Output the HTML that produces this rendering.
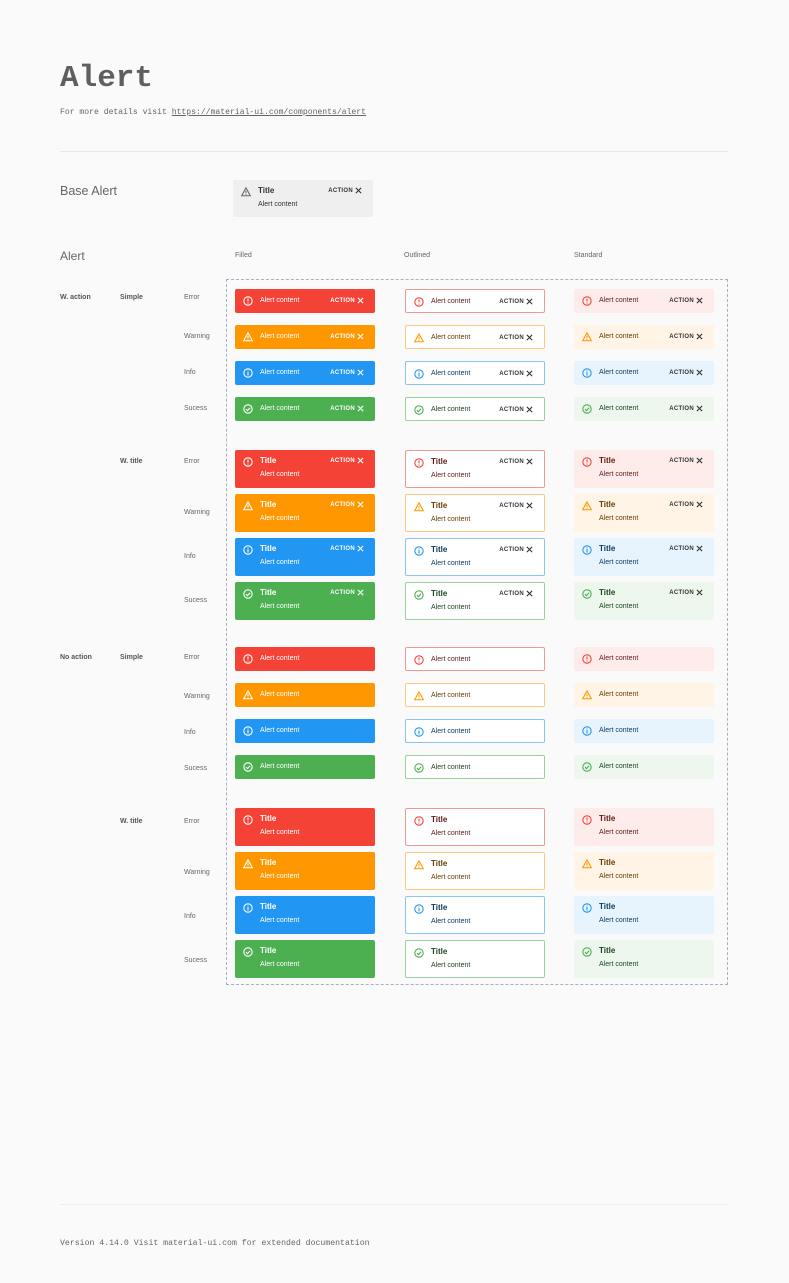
<!DOCTYPE html>
<html><head><meta charset="utf-8"><style>
body{margin:0;width:789px;height:1283px;background:#fafafa;position:relative;overflow:hidden;font-family:"Liberation Sans",sans-serif;color:#616161}
.p{position:absolute;white-space:nowrap}
.m{font-family:"Liberation Mono",monospace}
.l{font-size:7px;color:#666}
.a{position:absolute;width:140px;border-radius:2px;box-sizing:border-box;font-size:7px}
.s{height:24px}.t{height:38px}
.a svg.i{position:absolute;left:8px;top:7px;width:10px;height:10px}
.a .c{position:absolute;left:25px;top:8px;line-height:8px}
.t .c{top:21px}
.t .h{position:absolute;left:25px;top:6px;font-size:8px;font-weight:bold;line-height:10px}
.a .b{position:absolute;right:20px;top:8px;font-size:6px;font-weight:bold;letter-spacing:.3px;line-height:8px}
.a svg.x{position:absolute;right:11px;top:8px;width:7px;height:7px}
.t .b{top:7px}.t svg.x{top:7px}
.F{color:#fff}.F.e{background:#f44336}.F.w{background:#ff9800}.F.n{background:#2196f3}.F.k{background:#4caf50}
.O{background:#fff;border:1px solid}
.O.e{border-color:#ec9a95;color:#611a15}.O.w{border-color:#ffc880;color:#663c00}.O.n{border-color:#8cc4f0;color:#0d3c61}.O.k{border-color:#9ccf9e;color:#1e4620}
.S.e{background:#fdecea;color:#611a15}.S.w{background:#fff4e5;color:#663c00}.S.n{background:#e8f4fd;color:#0d3c61}.S.k{background:#edf7ed;color:#1e4620}
.O .b,.S .b,.O .x,.S .x{color:#333}
.O.e .i,.S.e .i{color:#f44336}.O.w .i,.S.w .i{color:#ff9800}.O.n .i,.S.n .i{color:#2196f3}.O.k .i,.S.k .i{color:#4caf50}
svg{fill:none;stroke:currentColor;stroke-width:1.3}
</style></head><body>
<svg width="0" height="0" style="position:absolute">
<symbol id="e" viewBox="0 0 12 12"><circle cx="6" cy="6" r="5"/><path d="M6 3v3.5M6 8v1"/></symbol>
<symbol id="w" viewBox="0 0 12 12"><path d="M6 1L11.2 10.5H0.8Z M6 4.5v3M6 8.5v1"/></symbol>
<symbol id="n" viewBox="0 0 12 12"><circle cx="6" cy="6" r="5"/><path d="M6 5v4M6 3v1"/></symbol>
<symbol id="k" viewBox="0 0 12 12"><circle cx="6" cy="6" r="5"/><path d="M3.5 6.2l1.8 1.8 3.3-3.5"/></symbol>
<symbol id="x" viewBox="0 0 8 8"><path d="M1 1l6 6M7 1L1 7"/></symbol>
</svg>

<div class="p m" style="left:60px;top:61px;font-size:31px;font-weight:bold;color:#5f5f5f">Alert</div>
<div class="p m" style="left:60px;top:108px;font-size:8.1px;color:#666">For more details visit <span style="text-decoration:underline">https://material-ui.com/components/alert</span></div>
<div class="p" style="left:60px;top:151px;width:668px;height:1px;background:#e8e8e8"></div>

<div class="p" style="left:60px;top:184px;font-size:12.5px;color:#666">Base Alert</div>
<div class="a t" style="left:233px;top:180px;background:#efefef;color:#333;height:37px"><svg class="i" style="color:#666"><use href="#w"/></svg><div class="h">Title</div><div class="c">Alert content</div><div class="b">ACTION</div><svg class="x"><use href="#x"/></svg></div>

<div class="p" style="left:60px;top:249px;font-size:12px;color:#666">Alert</div>
<div class="p l" style="left:235px;top:252px">Filled</div>
<div class="p l" style="left:404px;top:252px">Outlined</div>
<div class="p l" style="left:574px;top:252px">Standard</div>
<div class="p" style="left:226px;top:279px;width:500px;height:704px;border:1px dashed #a9aec4"></div>

<div class="p l" style="left:60px;top:294px;font-weight:bold;color:#555">W. action</div>
<div class="p l" style="left:120px;top:294px;font-weight:bold;color:#555">Simple</div>
<div class="p l" style="left:184px;top:294px">Error</div>
<div class="p l" style="left:184px;top:333px">Warning</div>
<div class="p l" style="left:184px;top:369px">Info</div>
<div class="p l" style="left:184px;top:405px">Sucess</div>
<div class="p l" style="left:120px;top:458px;font-weight:bold;color:#555">W. title</div>
<div class="p l" style="left:184px;top:458px">Error</div>
<div class="p l" style="left:184px;top:509px">Warning</div>
<div class="p l" style="left:184px;top:553px">Info</div>
<div class="p l" style="left:184px;top:597px">Sucess</div>
<div class="p l" style="left:60px;top:654px;font-weight:bold;color:#555">No action</div>
<div class="p l" style="left:120px;top:654px;font-weight:bold;color:#555">Simple</div>
<div class="p l" style="left:184px;top:654px">Error</div>
<div class="p l" style="left:184px;top:693px">Warning</div>
<div class="p l" style="left:184px;top:729px">Info</div>
<div class="p l" style="left:184px;top:765px">Sucess</div>
<div class="p l" style="left:120px;top:818px;font-weight:bold;color:#555">W. title</div>
<div class="p l" style="left:184px;top:818px">Error</div>
<div class="p l" style="left:184px;top:869px">Warning</div>
<div class="p l" style="left:184px;top:913px">Info</div>
<div class="p l" style="left:184px;top:957px">Sucess</div>

<div class="a s F e" style="left:235px;top:289px"><svg class="i"><use href="#e"/></svg><div class="c">Alert content</div><div class="b">ACTION</div><svg class="x"><use href="#x"/></svg></div>
<div class="a s O e" style="left:405px;top:289px"><svg class="i"><use href="#e"/></svg><div class="c">Alert content</div><div class="b">ACTION</div><svg class="x"><use href="#x"/></svg></div>
<div class="a s S e" style="left:574px;top:289px"><svg class="i"><use href="#e"/></svg><div class="c">Alert content</div><div class="b">ACTION</div><svg class="x"><use href="#x"/></svg></div>
<div class="a s F w" style="left:235px;top:325px"><svg class="i"><use href="#w"/></svg><div class="c">Alert content</div><div class="b">ACTION</div><svg class="x"><use href="#x"/></svg></div>
<div class="a s O w" style="left:405px;top:325px"><svg class="i"><use href="#w"/></svg><div class="c">Alert content</div><div class="b">ACTION</div><svg class="x"><use href="#x"/></svg></div>
<div class="a s S w" style="left:574px;top:325px"><svg class="i"><use href="#w"/></svg><div class="c">Alert content</div><div class="b">ACTION</div><svg class="x"><use href="#x"/></svg></div>
<div class="a s F n" style="left:235px;top:361px"><svg class="i"><use href="#n"/></svg><div class="c">Alert content</div><div class="b">ACTION</div><svg class="x"><use href="#x"/></svg></div>
<div class="a s O n" style="left:405px;top:361px"><svg class="i"><use href="#n"/></svg><div class="c">Alert content</div><div class="b">ACTION</div><svg class="x"><use href="#x"/></svg></div>
<div class="a s S n" style="left:574px;top:361px"><svg class="i"><use href="#n"/></svg><div class="c">Alert content</div><div class="b">ACTION</div><svg class="x"><use href="#x"/></svg></div>
<div class="a s F k" style="left:235px;top:397px"><svg class="i"><use href="#k"/></svg><div class="c">Alert content</div><div class="b">ACTION</div><svg class="x"><use href="#x"/></svg></div>
<div class="a s O k" style="left:405px;top:397px"><svg class="i"><use href="#k"/></svg><div class="c">Alert content</div><div class="b">ACTION</div><svg class="x"><use href="#x"/></svg></div>
<div class="a s S k" style="left:574px;top:397px"><svg class="i"><use href="#k"/></svg><div class="c">Alert content</div><div class="b">ACTION</div><svg class="x"><use href="#x"/></svg></div>

<div class="a t F e" style="left:235px;top:450px"><svg class="i"><use href="#e"/></svg><div class="h">Title</div><div class="c">Alert content</div><div class="b">ACTION</div><svg class="x"><use href="#x"/></svg></div>
<div class="a t O e" style="left:405px;top:450px"><svg class="i"><use href="#e"/></svg><div class="h">Title</div><div class="c">Alert content</div><div class="b">ACTION</div><svg class="x"><use href="#x"/></svg></div>
<div class="a t S e" style="left:574px;top:450px"><svg class="i"><use href="#e"/></svg><div class="h">Title</div><div class="c">Alert content</div><div class="b">ACTION</div><svg class="x"><use href="#x"/></svg></div>
<div class="a t F w" style="left:235px;top:494px"><svg class="i"><use href="#w"/></svg><div class="h">Title</div><div class="c">Alert content</div><div class="b">ACTION</div><svg class="x"><use href="#x"/></svg></div>
<div class="a t O w" style="left:405px;top:494px"><svg class="i"><use href="#w"/></svg><div class="h">Title</div><div class="c">Alert content</div><div class="b">ACTION</div><svg class="x"><use href="#x"/></svg></div>
<div class="a t S w" style="left:574px;top:494px"><svg class="i"><use href="#w"/></svg><div class="h">Title</div><div class="c">Alert content</div><div class="b">ACTION</div><svg class="x"><use href="#x"/></svg></div>
<div class="a t F n" style="left:235px;top:538px"><svg class="i"><use href="#n"/></svg><div class="h">Title</div><div class="c">Alert content</div><div class="b">ACTION</div><svg class="x"><use href="#x"/></svg></div>
<div class="a t O n" style="left:405px;top:538px"><svg class="i"><use href="#n"/></svg><div class="h">Title</div><div class="c">Alert content</div><div class="b">ACTION</div><svg class="x"><use href="#x"/></svg></div>
<div class="a t S n" style="left:574px;top:538px"><svg class="i"><use href="#n"/></svg><div class="h">Title</div><div class="c">Alert content</div><div class="b">ACTION</div><svg class="x"><use href="#x"/></svg></div>
<div class="a t F k" style="left:235px;top:582px"><svg class="i"><use href="#k"/></svg><div class="h">Title</div><div class="c">Alert content</div><div class="b">ACTION</div><svg class="x"><use href="#x"/></svg></div>
<div class="a t O k" style="left:405px;top:582px"><svg class="i"><use href="#k"/></svg><div class="h">Title</div><div class="c">Alert content</div><div class="b">ACTION</div><svg class="x"><use href="#x"/></svg></div>
<div class="a t S k" style="left:574px;top:582px"><svg class="i"><use href="#k"/></svg><div class="h">Title</div><div class="c">Alert content</div><div class="b">ACTION</div><svg class="x"><use href="#x"/></svg></div>

<div class="a s F e" style="left:235px;top:647px"><svg class="i"><use href="#e"/></svg><div class="c">Alert content</div></div>
<div class="a s O e" style="left:405px;top:647px"><svg class="i"><use href="#e"/></svg><div class="c">Alert content</div></div>
<div class="a s S e" style="left:574px;top:647px"><svg class="i"><use href="#e"/></svg><div class="c">Alert content</div></div>
<div class="a s F w" style="left:235px;top:683px"><svg class="i"><use href="#w"/></svg><div class="c">Alert content</div></div>
<div class="a s O w" style="left:405px;top:683px"><svg class="i"><use href="#w"/></svg><div class="c">Alert content</div></div>
<div class="a s S w" style="left:574px;top:683px"><svg class="i"><use href="#w"/></svg><div class="c">Alert content</div></div>
<div class="a s F n" style="left:235px;top:719px"><svg class="i"><use href="#n"/></svg><div class="c">Alert content</div></div>
<div class="a s O n" style="left:405px;top:719px"><svg class="i"><use href="#n"/></svg><div class="c">Alert content</div></div>
<div class="a s S n" style="left:574px;top:719px"><svg class="i"><use href="#n"/></svg><div class="c">Alert content</div></div>
<div class="a s F k" style="left:235px;top:755px"><svg class="i"><use href="#k"/></svg><div class="c">Alert content</div></div>
<div class="a s O k" style="left:405px;top:755px"><svg class="i"><use href="#k"/></svg><div class="c">Alert content</div></div>
<div class="a s S k" style="left:574px;top:755px"><svg class="i"><use href="#k"/></svg><div class="c">Alert content</div></div>

<div class="a t F e" style="left:235px;top:808px"><svg class="i"><use href="#e"/></svg><div class="h">Title</div><div class="c">Alert content</div></div>
<div class="a t O e" style="left:405px;top:808px"><svg class="i"><use href="#e"/></svg><div class="h">Title</div><div class="c">Alert content</div></div>
<div class="a t S e" style="left:574px;top:808px"><svg class="i"><use href="#e"/></svg><div class="h">Title</div><div class="c">Alert content</div></div>
<div class="a t F w" style="left:235px;top:852px"><svg class="i"><use href="#w"/></svg><div class="h">Title</div><div class="c">Alert content</div></div>
<div class="a t O w" style="left:405px;top:852px"><svg class="i"><use href="#w"/></svg><div class="h">Title</div><div class="c">Alert content</div></div>
<div class="a t S w" style="left:574px;top:852px"><svg class="i"><use href="#w"/></svg><div class="h">Title</div><div class="c">Alert content</div></div>
<div class="a t F n" style="left:235px;top:896px"><svg class="i"><use href="#n"/></svg><div class="h">Title</div><div class="c">Alert content</div></div>
<div class="a t O n" style="left:405px;top:896px"><svg class="i"><use href="#n"/></svg><div class="h">Title</div><div class="c">Alert content</div></div>
<div class="a t S n" style="left:574px;top:896px"><svg class="i"><use href="#n"/></svg><div class="h">Title</div><div class="c">Alert content</div></div>
<div class="a t F k" style="left:235px;top:940px"><svg class="i"><use href="#k"/></svg><div class="h">Title</div><div class="c">Alert content</div></div>
<div class="a t O k" style="left:405px;top:940px"><svg class="i"><use href="#k"/></svg><div class="h">Title</div><div class="c">Alert content</div></div>
<div class="a t S k" style="left:574px;top:940px"><svg class="i"><use href="#k"/></svg><div class="h">Title</div><div class="c">Alert content</div></div>

<div class="p" style="left:60px;top:1204px;width:668px;height:1px;background:#ececec"></div>
<div class="p m" style="left:60px;top:1239px;font-size:8.2px;color:#666">Version 4.14.0  Visit material-ui.com for extended documentation</div>
</body></html>
